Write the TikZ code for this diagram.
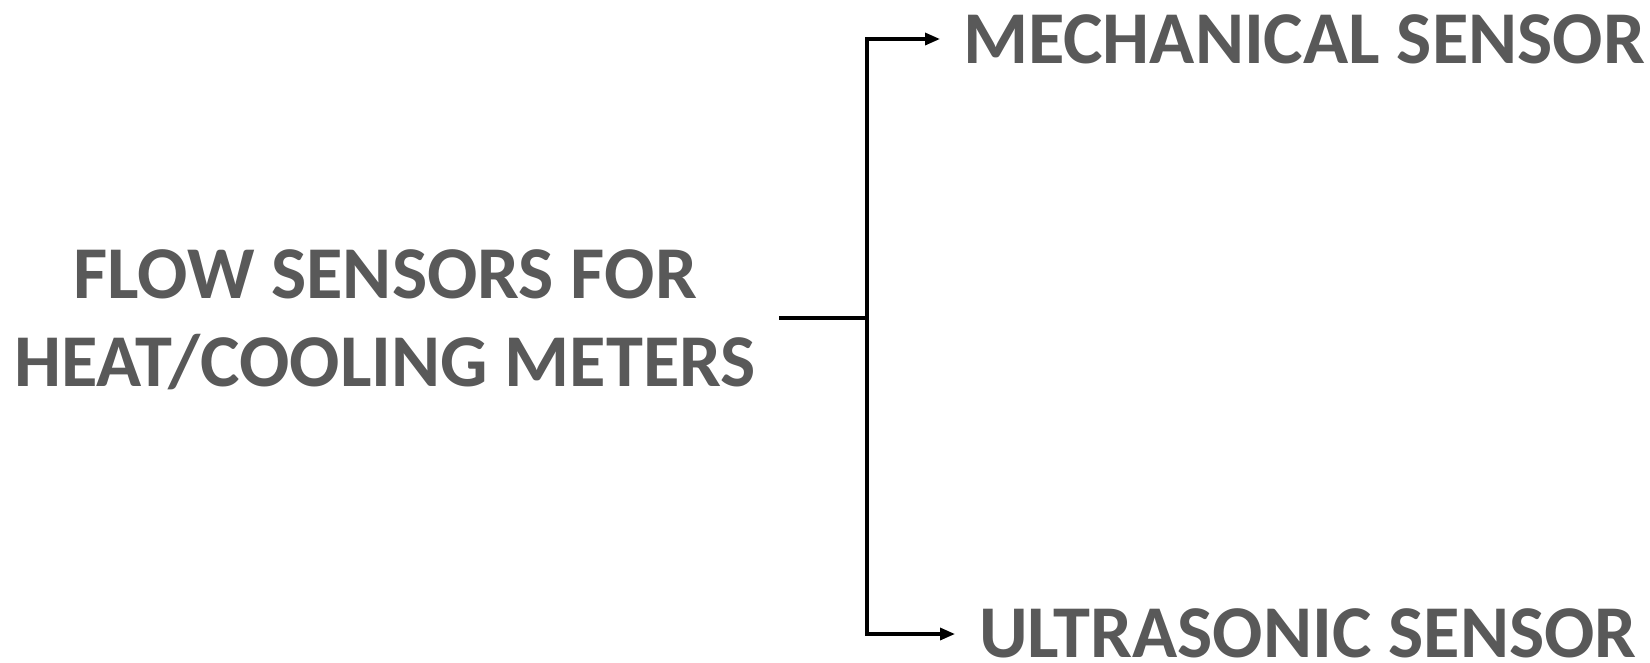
\documentclass[tikz,border=0pt]{standalone}
\usepackage{fontspec}
\setmainfont{Carlito}
\usetikzlibrary{arrows.meta}
\definecolor{txtgray}{RGB}{89,89,89}
\tikzset{
  lbl/.style={text=txtgray, font=\fontsize{74.5}{88}\selectfont\bfseries, inner sep=0pt, outer sep=0pt},
  conn/.style={line width=3.3pt, black},
  arr/.style={conn, -{Triangle[length=15pt,width=12pt]}}
}
\begin{document}
\begin{tikzpicture}[x=1pt,y=1pt]
\useasboundingbox (0,0) rectangle (1650,-662);
\node[lbl, anchor=base west] (mech) at (963,-63) {MECHANICAL SENSOR};
\node[lbl, anchor=base west] (ultra) at (979,-657) {ULTRASONIC SENSOR};
\node[lbl, align=center, anchor=base] (src) at (385,-386) {FLOW SENSORS FOR\\HEAT/COOLING METERS};
\coordinate (start) at (779,-318);
\coordinate (j) at (867,-318);
\coordinate (mtip) at (940,-39);
\coordinate (utip) at (955,-634);
\draw[conn] (start) -- (j);
\draw[arr] (j) |- (mtip);
\draw[arr] (j) |- (utip);
\end{tikzpicture}
\end{document}
